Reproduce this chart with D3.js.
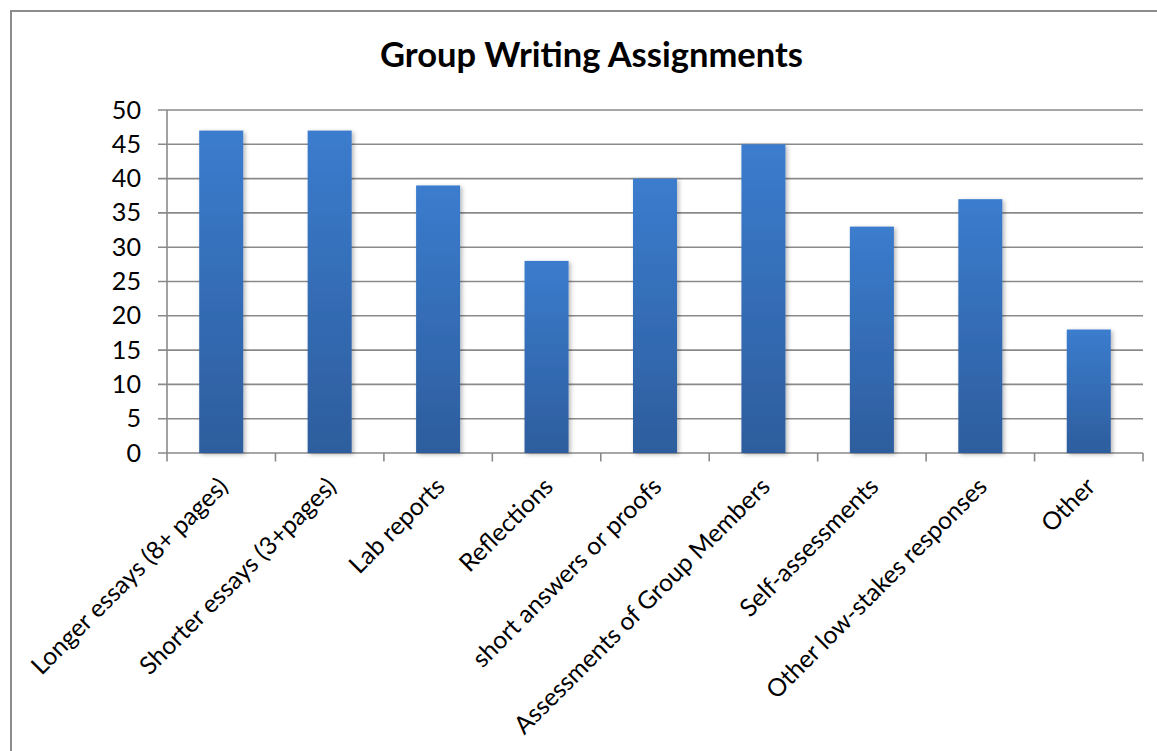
<!DOCTYPE html>
<html><head><meta charset="utf-8">
<script src="https://cdn.jsdelivr.net/npm/d3@7"></script>
<style>
body{margin:0;background:#fff}
svg{display:block}
text{font-family:Lato,"Open Sans",sans-serif;fill:#000}
</style>
</head><body>
<svg id="c" width="1157" height="751"></svg>
<script>
const title = "Group Writing Assignments";
const categories = ["Longer essays (8+ pages)","Shorter essays (3+pages)","Lab reports","Reflections","short answers or proofs","Assessments of Group Members","Self-assessments","Other low-stakes responses","Other"];
const values = [47,47,39,28,40,45,33,37,18];
const yTicks = [0,5,10,15,20,25,30,35,40,45,50];

const svg = d3.select("#c");
const L=167, R=1143, T=110, B=453;
const gridColor="#8a8a8a";

const defs = svg.append("defs");
const grad = defs.append("linearGradient").attr("id","bg").attr("x1",0).attr("y1",0).attr("x2",0).attr("y2",1);
grad.append("stop").attr("offset","0%").attr("stop-color","#3b7cce");
grad.append("stop").attr("offset","100%").attr("stop-color","#2d5d9d");
const f = defs.append("filter").attr("id","sh").attr("x","-20%").attr("y","-20%").attr("width","150%").attr("height","150%");
f.append("feDropShadow").attr("dx",2).attr("dy",1.5).attr("stdDeviation",2).attr("flood-color","#000").attr("flood-opacity",0.28);

// frame
svg.append("rect").attr("x",11).attr("y",11).attr("width",1300).attr("height",900)
  .attr("fill","none").attr("stroke","#8c8c8c").attr("stroke-width",2);

const x = d3.scaleBand().domain(categories).range([L,R]).paddingInner(0.594).paddingOuter(0.297);
const y = d3.scaleLinear().domain([0,50]).range([B,T]);

// gridlines
svg.append("g").selectAll("line").data(yTicks).join("line")
  .attr("x1",L-9).attr("x2",R).attr("y1",d=>y(d)).attr("y2",d=>y(d))
  .attr("stroke",gridColor).attr("stroke-width",1.6);

// y axis
const yAxis = svg.append("g").attr("transform",`translate(${L},0)`)
  .call(d3.axisLeft(y).tickValues(yTicks).tickSize(0).tickPadding(26));
yAxis.select(".domain").remove();
yAxis.selectAll("text").style("font-family","Lato, 'Open Sans', sans-serif");
svg.append("line").attr("x1",L).attr("x2",L).attr("y1",T).attr("y2",B+8.5)
  .attr("stroke",gridColor).attr("stroke-width",1.6);

// x ticks at band boundaries
const bounds = d3.range(categories.length+1).map(i=>x.range()[0]+i*x.step());
svg.append("g").selectAll("line").data(bounds.slice(1)).join("line")
  .attr("x1",d=>d).attr("x2",d=>d).attr("y1",B).attr("y2",B+8.5)
  .attr("stroke",gridColor).attr("stroke-width",1.6);

// bars
svg.append("g").selectAll("rect").data(values).join("rect")
  .attr("x",(d,i)=>x(categories[i])).attr("width",x.bandwidth())
  .attr("y",d=>y(d)).attr("height",d=>B-y(d))
  .attr("fill","url(#bg)").attr("filter","url(#sh)");

// category labels
const lab = svg.append("g").selectAll("text").data(categories).join("text")
  .attr("transform",d=>`translate(${x(d)+x.bandwidth()/2+2},482) rotate(-45)`)
  .attr("text-anchor","end").attr("dy","0.35em").style("font-size","26px").text(d=>d);
const longest = lab.filter(d=>d==="Assessments of Group Members").node();
const fs = 26*350/longest.getComputedTextLength();
lab.style("font-size",fs+"px");
yAxis.selectAll("text").style("font-size",(fs+0.5)+"px").attr("fill","#000");

// title
const tt = svg.append("text").attr("x",591.5).attr("y",66.5).attr("text-anchor","middle")
  .style("font-weight","bold").style("font-size","30px").text(title);
tt.style("font-size",(30*423/tt.node().getComputedTextLength())+"px");
</script>
</body></html>
